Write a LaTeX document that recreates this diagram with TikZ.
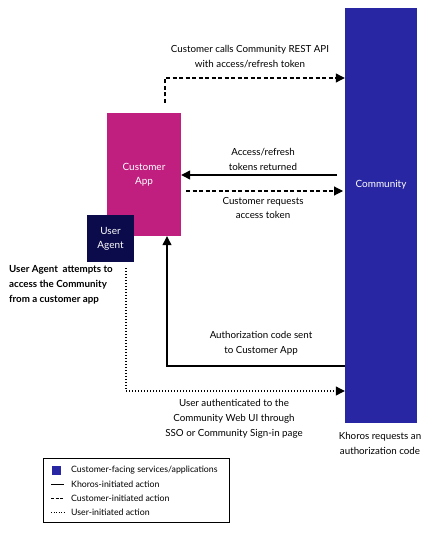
\documentclass[tikz,border=0pt]{standalone}
\usepackage{fontspec}
\setmainfont{Lato}
\usetikzlibrary{arrows.meta}
\definecolor{commblue}{HTML}{2826A3}
\definecolor{appmag}{HTML}{C01F7F}
\definecolor{agentnavy}{HTML}{0B0B4B}
\tikzset{
  box/.style={draw=none, minimum width=#1, inner sep=0pt, text=white, font=\fontsize{10}{14}\selectfont, align=center},
  lbl/.style={font=\fontsize{9.8}{15}\selectfont, align=center, inner sep=0pt},
  tip/.style={-{Triangle[length=9bp,width=9bp]}},
  solidline/.style={line width=1.2bp, tip},
  dashline/.style={line width=1.1bp, dash pattern=on 4bp off 2.5bp, tip},
  dotline/.style={line width=1.1bp, dash pattern=on 1.2bp off 1.8bp, tip},
  legtext/.style={font=\fontsize{8.8}{10}\selectfont, anchor=west, inner sep=0pt},
}
\begin{document}
\begin{tikzpicture}[x=1bp,y=-1bp]
\useasboundingbox (0,0) rectangle (439,539);
% boxes
\node[box=72bp, fill=commblue, minimum height=415bp] (comm) at (381,215.5) {};
\node[box=0bp, text=white] (commtxt) at (381,185) {Community};
\node[box=74bp, fill=appmag, minimum height=123bp] (app) at (144,174.5) {Customer\\App};
\node[box=47bp, fill=agentnavy, minimum height=47bp] (agent) at (110.5,238.5) {User\\Agent};
% coordinates
\coordinate (c1) at (165,103);
\coordinate (c2) at (165,78);
\coordinate (r1) at (337,175);
\coordinate (r2) at (186,191);
\coordinate (r3) at (343,191);
\coordinate (c3) at (167,366);
\coordinate (c4) at (126,268);
\coordinate (c5) at (126,391);
% top dashed
\draw[dashline] (c1) -- (c2) -- (c2 -| comm.west);
\node[lbl] (t1) at (250,56.5) {Customer calls Community REST API\\with access/refresh token};
% tokens returned
\draw[solidline] (r1) -- (r1 -| app.east);
\node[lbl] (t2) at (263,159) {Access/refresh\\tokens returned};
% customer requests
\draw[dashline] (r2) -- (r3);
\node[lbl] (t3) at (263,208) {Customer requests\\access token};
% authorization code
\draw[solidline] (c3 -| comm.west) -- (c3) -- (c3 |- app.south);
\node[lbl] (t4) at (261,343) {Authorization code sent\\to Customer App};
% user authenticated
\draw[dotline] (c4) -- (c5) -- (c5 -| comm.west);
\node[lbl] (t5) at (234,419) {User authenticated to the\\Community Web UI through\\SSO or Community Sign-in page};
% left label
\node[lbl, anchor=north west, align=left, font=\bfseries\fontsize{9.8}{15}\selectfont] (t6) at (9,265) {User Agent\ \ attempts to\\access the Community\\from a customer app};
% khoros
\node[lbl] (t7) at (380,443.5) {Khoros requests an\\authorization code};
% legend
\node[draw=black, line width=0.6bp, minimum width=186bp, minimum height=64bp, inner sep=0pt] (leg) at (136,490) {};
\node[fill=commblue, minimum size=9bp, inner sep=0pt] (lsq) at (56.5,470.5) {};
\coordinate (l2a) at (51,484); \coordinate (l2b) at (64,484);
\coordinate (l3a) at (51,498); \coordinate (l3b) at (64,498);
\coordinate (l4a) at (51,512); \coordinate (l4b) at (64,512);
\draw[line width=1bp] (l2a) -- (l2b);
\draw[line width=1bp, dash pattern=on 3bp off 1.5bp] (l3a) -- (l3b);
\draw[line width=0.9bp, dash pattern=on 1bp off 1.5bp] (l4a) -- (l4b);
\node[legtext] (lt1) at (71,470.5) {Customer-facing services/applications};
\node[legtext] (lt2) at (71,484) {Khoros-initiated action};
\node[legtext] (lt3) at (71,498) {Customer-initiated action};
\node[legtext] (lt4) at (71,512) {User-initiated action};
\end{tikzpicture}
\end{document}
